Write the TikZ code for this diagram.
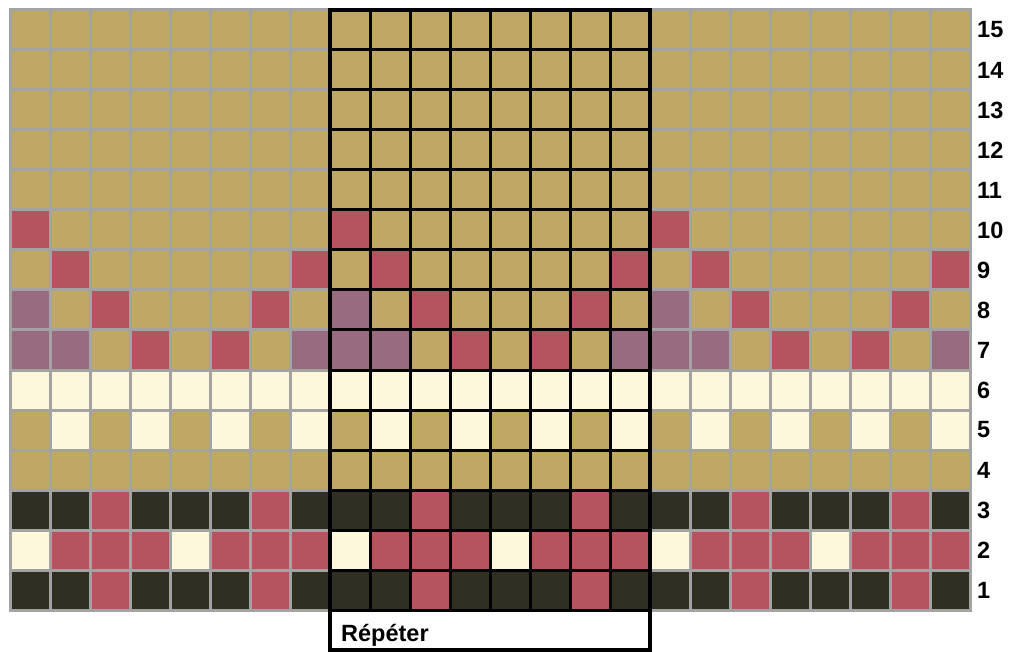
\documentclass[tikz,border=0pt]{standalone}
\usepackage{fontspec}
\setmainfont{Liberation Sans}
\definecolor{colT}{HTML}{BFA764}
\definecolor{colR}{HTML}{B5535F}
\definecolor{colP}{HTML}{986B80}
\definecolor{colC}{HTML}{FDF7DC}
\definecolor{colD}{HTML}{2F3023}
\definecolor{colG}{HTML}{A3A3A3}
\begin{document}
\begin{tikzpicture}[x=1pt,y=-1pt,
  gridline/.style={draw=colG, line width=3pt, line cap=rect},
  repline/.style={draw=black, line width=3pt},
  repbox/.style={draw=black, line width=4.5pt},
  lbl/.style={font=\fontsize{23.5}{23.5}\selectfont\bfseries, inner sep=0pt}]
\fill[white] (0,0) rectangle (1012,652);
\useasboundingbox (0,0) rectangle (1012,652);
% cells
\foreach \r/\pat in {
  1/{D,D,R,D,D,D,R,D},
  2/{C,R,R,R,C,R,R,R},
  3/{D,D,R,D,D,D,R,D},
  4/{T,T,T,T,T,T,T,T},
  5/{T,C,T,C,T,C,T,C},
  6/{C,C,C,C,C,C,C,C},
  7/{P,P,T,R,T,R,T,P},
  8/{P,T,R,T,T,T,R,T},
  9/{T,R,T,T,T,T,T,R},
  10/{R,T,T,T,T,T,T,T},
  11/{T,T,T,T,T,T,T,T},
  12/{T,T,T,T,T,T,T,T},
  13/{T,T,T,T,T,T,T,T},
  14/{T,T,T,T,T,T,T,T},
  15/{T,T,T,T,T,T,T,T}} {
  \foreach \k in {0,1,2} {
    \foreach \c [count=\i] in \pat {
      \fill[col\c] ({10+40*(8*\k+\i-1)},{610-40*\r}) rectangle +(40,40);
    }
  }
  \node[lbl, anchor=west] (row\r) at (977,{630-40*\r}) {\r};
}
% grey grid
\foreach \j in {0,...,24} { \draw[gridline] ({10+40*\j},10) -- ({10+40*\j},610); }
\foreach \j in {0,...,15} { \draw[gridline] (10,{10+40*\j}) -- (970,{10+40*\j}); }
% repeat section
\foreach \j in {1,...,7} { \draw[repline] ({330+40*\j},10) -- ({330+40*\j},610); }
\foreach \j in {1,...,15} { \draw[repline] (330,{10+40*\j}) -- (650,{10+40*\j}); }
\draw[repbox] (330,10) rectangle (650,650);
\node[lbl, anchor=base west] (rep) at (341,641) {Répéter};
\end{tikzpicture}
\end{document}
